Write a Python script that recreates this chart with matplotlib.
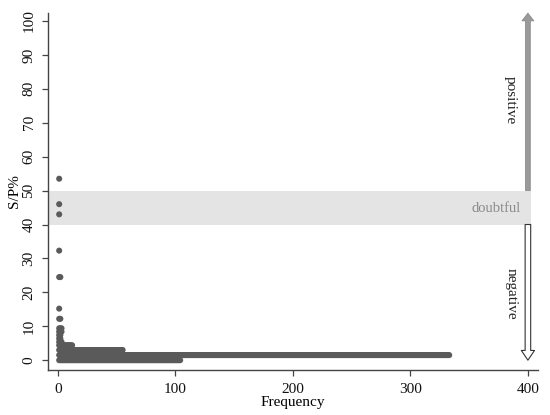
import numpy as np
import matplotlib
matplotlib.use("Agg")
import matplotlib.pyplot as plt
from matplotlib.patches import FancyArrowPatch

plt.rcParams['font.family'] = ['Liberation Serif', 'DejaVu Serif']

# S/P% values and how many samples share each value
sp_values = [53.5, 46.0, 43.0, 32.3, 24.5, 15.2, 12.2, 9.4, 8.4, 7.4, 6.4, 5.4, 4.4, 3.0, 1.5, 0.0]
counts = [1, 1, 1, 1, 2, 1, 2, 3, 3, 2, 2, 3, 12, 55, 333, 104]

# cut-offs
doubtful_low, doubtful_high = 40, 50

fig = plt.figure(figsize=(5.5, 4.15), dpi=100)
ax = fig.add_axes([0.0873, 0.1084, 0.8907, 0.8606])

# doubtful band
ax.axhspan(doubtful_low, doubtful_high, xmin=0, xmax=(403 + 8.5) / (408.5 + 8.5),
           color='#e4e4e4', lw=0, zorder=0)

# dots: one point per sample, stacked along the frequency axis
for v, n in zip(sp_values, counts):
    xs = np.arange(1, n + 1)
    ax.scatter(xs, np.full(n, v), s=19, color='#5a5a5a', edgecolors='none', zorder=3)

# arrows on the right
pos = FancyArrowPatch((400, doubtful_high), (400, 102.3),
                      arrowstyle='simple,head_length=5.5,head_width=8.5,tail_width=3.4',
                      mutation_scale=1, facecolor='#9a9a9a', edgecolor='#8a8a8a', lw=0.6,
                      clip_on=False, shrinkA=0, shrinkB=0, zorder=4)
neg = FancyArrowPatch((400, doubtful_low), (400, 0),
                      arrowstyle='simple,head_length=7,head_width=9.5,tail_width=4',
                      mutation_scale=1, facecolor='white', edgecolor='#333333', lw=0.8,
                      clip_on=False, shrinkA=0, shrinkB=0, zorder=4)
ax.add_patch(pos)
ax.add_patch(neg)

ax.text(385, 76.6, 'positive', rotation=270, ha='center', va='center', fontsize=11, color='#222222')
ax.text(386, 19.7, 'negative', rotation=270, ha='center', va='center', fontsize=11, color='#222222')
ax.text(394, 44.8, 'doubtful', ha='right', va='center', fontsize=10.5, color='#8a8a8a')

ax.set_xlim(-8.5, 408.5)
ax.set_ylim(-2.9, 102.4)
ax.set_xticks([0, 100, 200, 300, 400])
ax.set_yticks(np.arange(0, 101, 10))
for lbl in ax.get_yticklabels():
    lbl.set_rotation(90)
    lbl.set_va('center')

ax.spines['top'].set_visible(False)
ax.spines['right'].set_visible(False)
for s in ['left', 'bottom']:
    ax.spines[s].set_color('#444444')
    ax.spines[s].set_linewidth(1.0)
ax.tick_params(axis='both', direction='out', length=4, width=0.9, color='#444444',
               labelsize=11, labelcolor='#111111')
ax.tick_params(axis='x', pad=5)
ax.tick_params(axis='y', pad=5)

ax.set_xlabel('Frequency', fontsize=11, va='center')
ax.set_ylabel('S/P%', fontsize=11, va='center')
ax.xaxis.set_label_coords(0.5, -0.092)
ax.yaxis.set_label_coords(-0.068, 0.5)

fig.savefig('out.png', dpi=100)
